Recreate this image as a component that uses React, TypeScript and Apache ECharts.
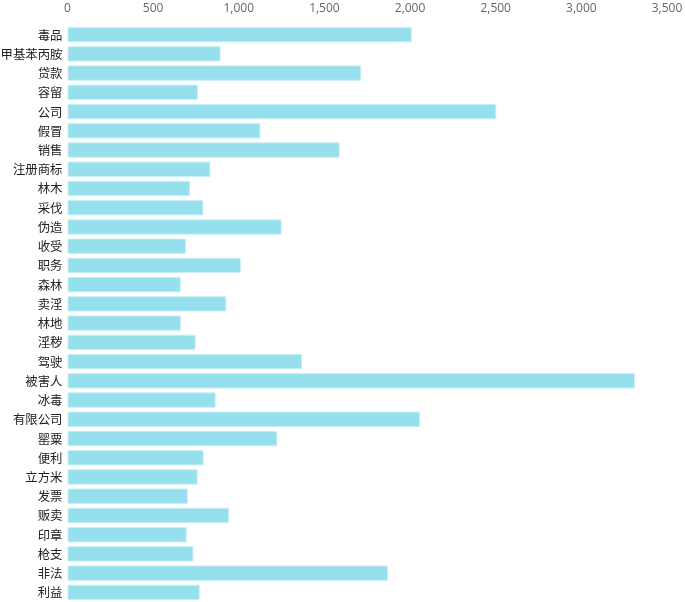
import React, { useEffect, useRef } from "react";
import * as echarts from "echarts";

const categories = [
  "毒品", "甲基苯丙胺", "贷款", "容留", "公司", "假冒", "销售", "注册商标", "林木", "采伐",
  "伪造", "收受", "职务", "森林", "卖淫", "林地", "淫秽", "驾驶", "被害人", "冰毒",
  "有限公司", "罂粟", "便利", "立方米", "发票", "贩卖", "印章", "枪支", "非法", "利益",
];
const values = [
  2010, 894, 1715, 762, 2503, 1126, 1589, 834, 715, 793,
  1250, 692, 1013, 661, 927, 663, 748, 1369, 3313, 865,
  2058, 1225, 795, 760, 702, 943, 696, 735, 1871, 772,
];
const xTicks = { min: 0, max: 3500, interval: 500 };

export default function App() {
  const ref = useRef<HTMLDivElement>(null);
  useEffect(() => {
    if (!ref.current) return;
    const chart = echarts.init(ref.current, null, { renderer: "svg" });
    chart.setOption({
      animation: false,
      grid: {
        left: 67.5,
        right: 18,
        top: 25,
        bottom: 0,
        containLabel: false,
        outerBoundsMode: "none",
      },
      xAxis: {
        type: "value",
        position: "top",
        min: xTicks.min,
        max: xTicks.max,
        interval: xTicks.interval,
        axisLine: { show: false },
        axisTick: { show: false },
        splitLine: { show: false },
        axisLabel: {
          color: "#666",
          fontSize: 12,
          fontFamily: "Open Sans, Noto Sans, sans-serif",
          margin: 12,
        },
      },
      yAxis: {
        type: "category",
        inverse: true,
        data: categories,
        axisLine: { show: false },
        axisTick: { show: false },
        axisLabel: {
          color: "#222",
          fontSize: 12.4,
          fontFamily: "Noto Sans CJK SC, sans-serif",
          margin: 5,
        },
      },
      series: [
        {
          type: "bar",
          data: values,
          barCategoryGap: "20%",
          itemStyle: {
            color: "#96dfed",
            borderColor: "#c8f0f7",
            borderWidth: 1,
          },
        },
      ],
    });
    return () => chart.dispose();
  }, []);
  return (
    <div
      ref={ref}
      style={{ position: "fixed", left: 0, top: 0, width: 685, height: 602 }}
    />
  );
}
